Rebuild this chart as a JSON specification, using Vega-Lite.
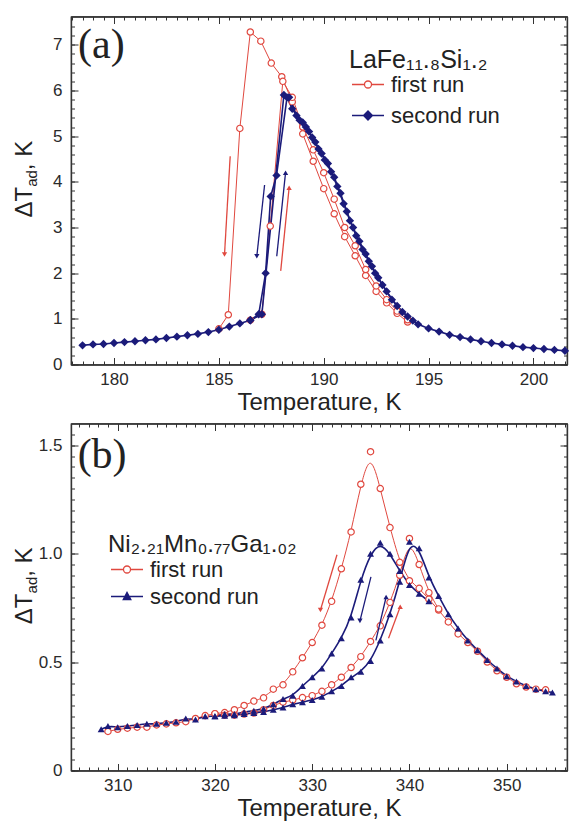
{
  "$schema": "https://vega.github.io/schema/vega-lite/v6.json",
  "background": "white",
  "padding": {"left": 12, "top": 14.5, "right": 0, "bottom": 0},
  "spacing": 6,
  "config": {
    "font": "Liberation Sans",
    "view": {"stroke": "#333333", "strokeWidth": 1.2},
    "axis": {
      "grid": false,
      "labelFont": "Liberation Sans",
      "labelFontSize": 17,
      "labelColor": "#2a2a2a",
      "titleFont": "Liberation Sans",
      "titleFontSize": 24,
      "titleFontWeight": "normal",
      "titleColor": "#222222",
      "domainColor": "#333333",
      "domainWidth": 1.2,
      "tickColor": "#333333",
      "tickWidth": 1,
      "labelOverlap": false,
      "labelBound": false,
      "labelFlush": false
    }
  },
  "datasets": {
    "a": [
      {"T":185.0,"dT":0.78,"run":"first run","br":"1c"},
      {"T":185.45,"dT":1.09,"run":"first run","br":"1c"},
      {"T":186.0,"dT":5.17,"run":"first run","br":"1c"},
      {"T":186.5,"dT":7.28,"run":"first run","br":"1c"},
      {"T":187.0,"dT":7.08,"run":"first run","br":"1c"},
      {"T":187.5,"dT":6.6,"run":"first run","br":"1c"},
      {"T":188.0,"dT":6.3,"run":"first run","br":"1c"},
      {"T":188.5,"dT":5.75,"run":"first run","br":"1c"},
      {"T":189.0,"dT":5.05,"run":"first run","br":"1c"},
      {"T":189.5,"dT":4.45,"run":"first run","br":"1c"},
      {"T":190.0,"dT":3.85,"run":"first run","br":"1c"},
      {"T":190.5,"dT":3.3,"run":"first run","br":"1c"},
      {"T":191.0,"dT":2.8,"run":"first run","br":"1c"},
      {"T":191.5,"dT":2.38,"run":"first run","br":"1c"},
      {"T":192.0,"dT":1.95,"run":"first run","br":"1c"},
      {"T":192.5,"dT":1.6,"run":"first run","br":"1c"},
      {"T":193.0,"dT":1.35,"run":"first run","br":"1c"},
      {"T":193.5,"dT":1.12,"run":"first run","br":"1c"},
      {"T":194.0,"dT":0.93,"run":"first run","br":"1c"},
      {"T":186.5,"dT":0.97,"run":"first run","br":"1h"},
      {"T":187.05,"dT":1.1,"run":"first run","br":"1h"},
      {"T":187.45,"dT":3.03,"run":"first run","br":"1h"},
      {"T":188.05,"dT":6.2,"run":"first run","br":"1h"},
      {"T":188.5,"dT":5.85,"run":"first run","br":"1h"},
      {"T":189.0,"dT":5.2,"run":"first run","br":"1h"},
      {"T":189.5,"dT":4.7,"run":"first run","br":"1h"},
      {"T":190.0,"dT":4.2,"run":"first run","br":"1h"},
      {"T":190.5,"dT":3.62,"run":"first run","br":"1h"},
      {"T":191.0,"dT":3.0,"run":"first run","br":"1h"},
      {"T":191.5,"dT":2.6,"run":"first run","br":"1h"},
      {"T":192.0,"dT":2.08,"run":"first run","br":"1h"},
      {"T":192.5,"dT":1.72,"run":"first run","br":"1h"},
      {"T":193.0,"dT":1.42,"run":"first run","br":"1h"},
      {"T":193.5,"dT":1.17,"run":"first run","br":"1h"},
      {"T":194.0,"dT":0.98,"run":"first run","br":"1h"},
      {"T":178.5,"dT":0.42,"run":"second run","br":"2h"},
      {"T":179.0,"dT":0.44,"run":"second run","br":"2h"},
      {"T":179.5,"dT":0.45,"run":"second run","br":"2h"},
      {"T":180.0,"dT":0.47,"run":"second run","br":"2h"},
      {"T":180.5,"dT":0.49,"run":"second run","br":"2h"},
      {"T":181.0,"dT":0.51,"run":"second run","br":"2h"},
      {"T":181.5,"dT":0.53,"run":"second run","br":"2h"},
      {"T":182.0,"dT":0.55,"run":"second run","br":"2h"},
      {"T":182.5,"dT":0.58,"run":"second run","br":"2h"},
      {"T":183.0,"dT":0.61,"run":"second run","br":"2h"},
      {"T":183.5,"dT":0.64,"run":"second run","br":"2h"},
      {"T":184.0,"dT":0.67,"run":"second run","br":"2h"},
      {"T":184.5,"dT":0.71,"run":"second run","br":"2h"},
      {"T":185.0,"dT":0.76,"run":"second run","br":"2h"},
      {"T":185.5,"dT":0.83,"run":"second run","br":"2h"},
      {"T":186.0,"dT":0.9,"run":"second run","br":"2h"},
      {"T":186.5,"dT":0.97,"run":"second run","br":"2h"},
      {"T":187.05,"dT":1.1,"run":"second run","br":"2h"},
      {"T":188.1,"dT":5.9,"run":"second run","br":"2h"},
      {"T":188.35,"dT":5.85,"run":"second run","br":"2h"},
      {"T":188.7,"dT":5.45,"run":"second run","br":"2h"},
      {"T":189.0,"dT":5.3,"run":"second run","br":"2h"},
      {"T":189.3,"dT":5.1,"run":"second run","br":"2h"},
      {"T":189.6,"dT":4.87,"run":"second run","br":"2h"},
      {"T":189.9,"dT":4.62,"run":"second run","br":"2h"},
      {"T":190.2,"dT":4.4,"run":"second run","br":"2h"},
      {"T":190.5,"dT":4.1,"run":"second run","br":"2h"},
      {"T":190.8,"dT":3.75,"run":"second run","br":"2h"},
      {"T":191.1,"dT":3.35,"run":"second run","br":"2h"},
      {"T":191.4,"dT":3.0,"run":"second run","br":"2h"},
      {"T":191.7,"dT":2.7,"run":"second run","br":"2h"},
      {"T":192.0,"dT":2.42,"run":"second run","br":"2h"},
      {"T":192.3,"dT":2.15,"run":"second run","br":"2h"},
      {"T":192.6,"dT":1.9,"run":"second run","br":"2h"},
      {"T":193.0,"dT":1.6,"run":"second run","br":"2h"},
      {"T":193.5,"dT":1.28,"run":"second run","br":"2h"},
      {"T":194.0,"dT":1.05,"run":"second run","br":"2h"},
      {"T":194.5,"dT":0.88,"run":"second run","br":"2h"},
      {"T":195.0,"dT":0.79,"run":"second run","br":"2h"},
      {"T":195.5,"dT":0.72,"run":"second run","br":"2h"},
      {"T":196.0,"dT":0.65,"run":"second run","br":"2h"},
      {"T":196.5,"dT":0.6,"run":"second run","br":"2h"},
      {"T":197.0,"dT":0.55,"run":"second run","br":"2h"},
      {"T":197.5,"dT":0.51,"run":"second run","br":"2h"},
      {"T":198.0,"dT":0.47,"run":"second run","br":"2h"},
      {"T":198.5,"dT":0.44,"run":"second run","br":"2h"},
      {"T":199.0,"dT":0.41,"run":"second run","br":"2h"},
      {"T":199.5,"dT":0.38,"run":"second run","br":"2h"},
      {"T":200.0,"dT":0.36,"run":"second run","br":"2h"},
      {"T":200.5,"dT":0.34,"run":"second run","br":"2h"},
      {"T":201.0,"dT":0.32,"run":"second run","br":"2h"},
      {"T":201.5,"dT":0.3,"run":"second run","br":"2h"},
      {"T":186.5,"dT":0.97,"run":"second run","br":"2c"},
      {"T":186.9,"dT":1.1,"run":"second run","br":"2c"},
      {"T":187.23,"dT":2.0,"run":"second run","br":"2c"},
      {"T":187.47,"dT":3.68,"run":"second run","br":"2c"},
      {"T":187.75,"dT":4.14,"run":"second run","br":"2c"},
      {"T":188.25,"dT":5.85,"run":"second run","br":"2c"},
      {"T":188.5,"dT":5.6,"run":"second run","br":"2c"},
      {"T":188.85,"dT":5.35,"run":"second run","br":"2c"},
      {"T":189.15,"dT":5.2,"run":"second run","br":"2c"},
      {"T":189.45,"dT":4.97,"run":"second run","br":"2c"},
      {"T":189.75,"dT":4.72,"run":"second run","br":"2c"},
      {"T":190.05,"dT":4.48,"run":"second run","br":"2c"},
      {"T":190.35,"dT":4.22,"run":"second run","br":"2c"},
      {"T":190.65,"dT":3.9,"run":"second run","br":"2c"},
      {"T":190.95,"dT":3.52,"run":"second run","br":"2c"},
      {"T":191.25,"dT":3.15,"run":"second run","br":"2c"},
      {"T":191.55,"dT":2.82,"run":"second run","br":"2c"},
      {"T":191.85,"dT":2.52,"run":"second run","br":"2c"},
      {"T":192.15,"dT":2.26,"run":"second run","br":"2c"},
      {"T":192.45,"dT":2.0,"run":"second run","br":"2c"},
      {"T":192.8,"dT":1.74,"run":"second run","br":"2c"},
      {"T":193.25,"dT":1.42,"run":"second run","br":"2c"},
      {"T":193.75,"dT":1.15,"run":"second run","br":"2c"},
      {"T":194.25,"dT":0.96,"run":"second run","br":"2c"}
    ],
    "aArrows": [
      {"T":185.54,"dT":4.56,"T2":185.27,"dT2":2.41,"run":"first run","dir":"down"},
      {"T":187.95,"dT":2.05,"T2":188.35,"dT2":3.87,"run":"first run","dir":"up"},
      {"T":187.18,"dT":3.93,"T2":186.81,"dT2":2.37,"run":"second run","dir":"down"},
      {"T":187.76,"dT":2.37,"T2":188.18,"dT2":4.2,"run":"second run","dir":"up"}
    ],
    "b": [
      {"T":354,"dT":0.372,"run":"first run","br":"1c"},
      {"T":353,"dT":0.375,"run":"first run","br":"1c"},
      {"T":352,"dT":0.385,"run":"first run","br":"1c"},
      {"T":351,"dT":0.4,"run":"first run","br":"1c"},
      {"T":350,"dT":0.43,"run":"first run","br":"1c"},
      {"T":349,"dT":0.46,"run":"first run","br":"1c"},
      {"T":348,"dT":0.5,"run":"first run","br":"1c"},
      {"T":347,"dT":0.55,"run":"first run","br":"1c"},
      {"T":346,"dT":0.59,"run":"first run","br":"1c"},
      {"T":345,"dT":0.63,"run":"first run","br":"1c"},
      {"T":344,"dT":0.685,"run":"first run","br":"1c"},
      {"T":343,"dT":0.74,"run":"first run","br":"1c"},
      {"T":342,"dT":0.79,"run":"first run","br":"1c"},
      {"T":341,"dT":0.84,"run":"first run","br":"1c"},
      {"T":340,"dT":0.875,"run":"first run","br":"1c"},
      {"T":339,"dT":0.96,"run":"first run","br":"1c"},
      {"T":338,"dT":1.12,"run":"first run","br":"1c"},
      {"T":337,"dT":1.3,"run":"first run","br":"1c"},
      {"T":336,"dT":1.47,"run":"first run","br":"1c"},
      {"T":335,"dT":1.32,"run":"first run","br":"1c"},
      {"T":334,"dT":1.1,"run":"first run","br":"1c"},
      {"T":333,"dT":0.93,"run":"first run","br":"1c"},
      {"T":332,"dT":0.78,"run":"first run","br":"1c"},
      {"T":331,"dT":0.67,"run":"first run","br":"1c"},
      {"T":330,"dT":0.59,"run":"first run","br":"1c"},
      {"T":329,"dT":0.52,"run":"first run","br":"1c"},
      {"T":328,"dT":0.455,"run":"first run","br":"1c"},
      {"T":327,"dT":0.395,"run":"first run","br":"1c"},
      {"T":326,"dT":0.375,"run":"first run","br":"1c"},
      {"T":325,"dT":0.335,"run":"first run","br":"1c"},
      {"T":324,"dT":0.32,"run":"first run","br":"1c"},
      {"T":323,"dT":0.3,"run":"first run","br":"1c"},
      {"T":322,"dT":0.28,"run":"first run","br":"1c"},
      {"T":321,"dT":0.267,"run":"first run","br":"1c"},
      {"T":320,"dT":0.262,"run":"first run","br":"1c"},
      {"T":319,"dT":0.253,"run":"first run","br":"1c"},
      {"T":318,"dT":0.24,"run":"first run","br":"1c"},
      {"T":317,"dT":0.225,"run":"first run","br":"1c"},
      {"T":316,"dT":0.22,"run":"first run","br":"1c"},
      {"T":315,"dT":0.215,"run":"first run","br":"1c"},
      {"T":314,"dT":0.21,"run":"first run","br":"1c"},
      {"T":313,"dT":0.2,"run":"first run","br":"1c"},
      {"T":312,"dT":0.2,"run":"first run","br":"1c"},
      {"T":311,"dT":0.195,"run":"first run","br":"1c"},
      {"T":310,"dT":0.19,"run":"first run","br":"1c"},
      {"T":309,"dT":0.18,"run":"first run","br":"1c"},
      {"T":320,"dT":0.262,"run":"first run","br":"1h"},
      {"T":321,"dT":0.255,"run":"first run","br":"1h"},
      {"T":322,"dT":0.255,"run":"first run","br":"1h"},
      {"T":323,"dT":0.26,"run":"first run","br":"1h"},
      {"T":324,"dT":0.265,"run":"first run","br":"1h"},
      {"T":325,"dT":0.28,"run":"first run","br":"1h"},
      {"T":326,"dT":0.3,"run":"first run","br":"1h"},
      {"T":327,"dT":0.315,"run":"first run","br":"1h"},
      {"T":328,"dT":0.325,"run":"first run","br":"1h"},
      {"T":329,"dT":0.336,"run":"first run","br":"1h"},
      {"T":330,"dT":0.345,"run":"first run","br":"1h"},
      {"T":331,"dT":0.365,"run":"first run","br":"1h"},
      {"T":332,"dT":0.395,"run":"first run","br":"1h"},
      {"T":333,"dT":0.43,"run":"first run","br":"1h"},
      {"T":334,"dT":0.475,"run":"first run","br":"1h"},
      {"T":335,"dT":0.525,"run":"first run","br":"1h"},
      {"T":336,"dT":0.595,"run":"first run","br":"1h"},
      {"T":337,"dT":0.667,"run":"first run","br":"1h"},
      {"T":338,"dT":0.775,"run":"first run","br":"1h"},
      {"T":339,"dT":0.9,"run":"first run","br":"1h"},
      {"T":340,"dT":1.07,"run":"first run","br":"1h"},
      {"T":341,"dT":0.95,"run":"first run","br":"1h"},
      {"T":342,"dT":0.82,"run":"first run","br":"1h"},
      {"T":343,"dT":0.745,"run":"first run","br":"1h"},
      {"T":308.3,"dT":0.19,"run":"second run","br":"2c"},
      {"T":309,"dT":0.205,"run":"second run","br":"2c"},
      {"T":310,"dT":0.2,"run":"second run","br":"2c"},
      {"T":311,"dT":0.205,"run":"second run","br":"2c"},
      {"T":312,"dT":0.21,"run":"second run","br":"2c"},
      {"T":313,"dT":0.215,"run":"second run","br":"2c"},
      {"T":314,"dT":0.215,"run":"second run","br":"2c"},
      {"T":315,"dT":0.22,"run":"second run","br":"2c"},
      {"T":316,"dT":0.225,"run":"second run","br":"2c"},
      {"T":317,"dT":0.24,"run":"second run","br":"2c"},
      {"T":318,"dT":0.235,"run":"second run","br":"2c"},
      {"T":319,"dT":0.25,"run":"second run","br":"2c"},
      {"T":320,"dT":0.25,"run":"second run","br":"2c"},
      {"T":321,"dT":0.26,"run":"second run","br":"2c"},
      {"T":322,"dT":0.26,"run":"second run","br":"2c"},
      {"T":323,"dT":0.27,"run":"second run","br":"2c"},
      {"T":324,"dT":0.275,"run":"second run","br":"2c"},
      {"T":325,"dT":0.285,"run":"second run","br":"2c"},
      {"T":326,"dT":0.305,"run":"second run","br":"2c"},
      {"T":327,"dT":0.33,"run":"second run","br":"2c"},
      {"T":328,"dT":0.345,"run":"second run","br":"2c"},
      {"T":329,"dT":0.39,"run":"second run","br":"2c"},
      {"T":330,"dT":0.43,"run":"second run","br":"2c"},
      {"T":331,"dT":0.47,"run":"second run","br":"2c"},
      {"T":332,"dT":0.54,"run":"second run","br":"2c"},
      {"T":333,"dT":0.61,"run":"second run","br":"2c"},
      {"T":334,"dT":0.705,"run":"second run","br":"2c"},
      {"T":335,"dT":0.88,"run":"second run","br":"2c"},
      {"T":336,"dT":1.0,"run":"second run","br":"2c"},
      {"T":337,"dT":1.05,"run":"second run","br":"2c"},
      {"T":338,"dT":1.0,"run":"second run","br":"2c"},
      {"T":339,"dT":0.92,"run":"second run","br":"2c"},
      {"T":340,"dT":0.855,"run":"second run","br":"2c"},
      {"T":341,"dT":0.815,"run":"second run","br":"2c"},
      {"T":342,"dT":0.78,"run":"second run","br":"2c"},
      {"T":320,"dT":0.25,"run":"second run","br":"2h"},
      {"T":321,"dT":0.252,"run":"second run","br":"2h"},
      {"T":322,"dT":0.255,"run":"second run","br":"2h"},
      {"T":323,"dT":0.26,"run":"second run","br":"2h"},
      {"T":324,"dT":0.265,"run":"second run","br":"2h"},
      {"T":325,"dT":0.27,"run":"second run","br":"2h"},
      {"T":326,"dT":0.28,"run":"second run","br":"2h"},
      {"T":327,"dT":0.29,"run":"second run","br":"2h"},
      {"T":328,"dT":0.305,"run":"second run","br":"2h"},
      {"T":329,"dT":0.315,"run":"second run","br":"2h"},
      {"T":330,"dT":0.325,"run":"second run","br":"2h"},
      {"T":331,"dT":0.34,"run":"second run","br":"2h"},
      {"T":332,"dT":0.365,"run":"second run","br":"2h"},
      {"T":333,"dT":0.39,"run":"second run","br":"2h"},
      {"T":334,"dT":0.43,"run":"second run","br":"2h"},
      {"T":335,"dT":0.455,"run":"second run","br":"2h"},
      {"T":336,"dT":0.505,"run":"second run","br":"2h"},
      {"T":337,"dT":0.6,"run":"second run","br":"2h"},
      {"T":338,"dT":0.72,"run":"second run","br":"2h"},
      {"T":339,"dT":0.87,"run":"second run","br":"2h"},
      {"T":340,"dT":1.055,"run":"second run","br":"2h"},
      {"T":341,"dT":1.025,"run":"second run","br":"2h"},
      {"T":342,"dT":0.89,"run":"second run","br":"2h"},
      {"T":343,"dT":0.805,"run":"second run","br":"2h"},
      {"T":344,"dT":0.72,"run":"second run","br":"2h"},
      {"T":345,"dT":0.655,"run":"second run","br":"2h"},
      {"T":346,"dT":0.6,"run":"second run","br":"2h"},
      {"T":347,"dT":0.555,"run":"second run","br":"2h"},
      {"T":348,"dT":0.51,"run":"second run","br":"2h"},
      {"T":349,"dT":0.47,"run":"second run","br":"2h"},
      {"T":350,"dT":0.435,"run":"second run","br":"2h"},
      {"T":351,"dT":0.41,"run":"second run","br":"2h"},
      {"T":352,"dT":0.39,"run":"second run","br":"2h"},
      {"T":353,"dT":0.375,"run":"second run","br":"2h"},
      {"T":354,"dT":0.365,"run":"second run","br":"2h"},
      {"T":354.7,"dT":0.36,"run":"second run","br":"2h"}
    ],
    "bArrows": [
      {"T":332.55,"dT":0.995,"T2":330.85,"dT2":0.74,"run":"first run","dir":"down"},
      {"T":337.85,"dT":0.61,"T2":339.05,"dT2":0.755,"run":"first run","dir":"up"},
      {"T":336.04,"dT":0.893,"T2":334.91,"dT2":0.69,"run":"second run","dir":"down"},
      {"T":336.55,"dT":0.6,"T2":337.6,"dT2":0.8,"run":"second run","dir":"up"}
    ]
  },
  "resolve": {"scale": {"color": "independent"}, "legend": {"color": "independent"}},
  "vconcat": [
    {
      "width": 496,
      "height": 348,
      "resolve": {"axis": {"x": "independent", "y": "independent"}},
      "layer": [
        {
          "data": {"name": "a"},
          "mark": {"type": "line", "interpolate": "linear"},
          "encoding": {
            "x": {"field": "T", "type": "quantitative",
              "scale": {"domain": [177.95, 201.6], "nice": false, "zero": false},
              "axis": {"orient": "bottom", "title": "Temperature, K",
                "values": [178,178.5,179,179.5,180,180.5,181,181.5,182,182.5,183,183.5,184,184.5,185,185.5,186,186.5,187,187.5,188,188.5,189,189.5,190,190.5,191,191.5,192,192.5,193,193.5,194,194.5,195,195.5,196,196.5,197,197.5,198,198.5,199,199.5,200,200.5,201,201.5],
                "labelExpr": "datum.value % 5 === 0 ? format(datum.value, 'd') : ''",
                "tickSize": -3.5,
                "labelPadding": 10.5, "titlePadding": 3}},
            "y": {"field": "dT", "type": "quantitative",
              "scale": {"domain": [0, 7.62], "nice": false, "zero": false},
              "axis": {"orient": "left", "title": null,
                "values": [0,0.2,0.4,0.6,0.8,1,1.2,1.4,1.6,1.8,2,2.2,2.4,2.6,2.8,3,3.2,3.4,3.6,3.8,4,4.2,4.4,4.6,4.8,5,5.2,5.4,5.6,5.8,6,6.2,6.4,6.6,6.8,7,7.2,7.4],
                "labelExpr": "datum.value % 1 === 0 ? format(datum.value, 'd') : ''",
                "tickSize": -3.5,
                "labelPadding": 12.5}},
            "color": {"field": "run", "type": "nominal",
              "scale": {"domain": ["first run", "second run"], "range": ["#e0483f", "#1b1b7a"]},
              "legend": {"orient": "none", "legendX": 278, "legendY": 31, "padding": 0,
                "title": "LaFe₁₁.₈Si₁.₂", "titleFont": "Liberation Sans", "titleFontSize": 25, "titleFontWeight": "normal", "titleColor": "#222222", "titlePadding": 1, "titleLimit": 400,
                "labelFont": "Liberation Sans", "labelFontSize": 22, "labelColor": "#222222", "labelOffset": 20, "labelLimit": 300,
                "symbolSize": 256, "rowPadding": 9,
                "encode": {"symbols": {"update": {
                  "shape": {"signal": "datum.value === 'first run' ? 'M-1,0L0.56,0M1.44,0L3,0M1.44,0A0.44,0.44,0,1,1,0.56,0A0.44,0.44,0,1,1,1.44,0ZM1.44,0A0.44,0.44,0,1,0,0.56,0A0.44,0.44,0,1,0,1.44,0Z' : 'M-1,0L3,0M0.44,0L1,-0.56L1.56,0L1,0.56Z'"},
                  "stroke": {"signal": "datum.value === 'first run' ? '#e0483f' : '#1b1b7a'"},
                  "strokeWidth": {"value": 1.3},
                  "size": {"value": 256},
                  "opacity": {"value": 1}}}}}},
            "detail": {"field": "br"},
            "strokeWidth": {"field": "run", "type": "ordinal", "scale": {"domain": ["first run", "second run"], "range": [1, 1.6]}, "legend": null}
          }
        },
        {
          "data": {"name": "a"},
          "transform": [{"filter": "datum.run === 'first run'"}],
          "mark": {"type": "point", "shape": "circle", "filled": true, "fill": "#ffffff", "stroke": "#e0483f", "strokeWidth": 1.2, "size": 40, "opacity": 1},
          "encoding": {
            "x": {"field": "T", "type": "quantitative",
              "axis": {"orient": "top", "title": null, "labels": false, "tickSize": -3.5,
                "values": [178,178.5,179,179.5,180,180.5,181,181.5,182,182.5,183,183.5,184,184.5,185,185.5,186,186.5,187,187.5,188,188.5,189,189.5,190,190.5,191,191.5,192,192.5,193,193.5,194,194.5,195,195.5,196,196.5,197,197.5,198,198.5,199,199.5,200,200.5,201,201.5]}},
            "y": {"field": "dT", "type": "quantitative",
              "axis": {"orient": "right", "title": null, "labels": false, "tickSize": -3.5,
                "values": [0,0.2,0.4,0.6,0.8,1,1.2,1.4,1.6,1.8,2,2.2,2.4,2.6,2.8,3,3.2,3.4,3.6,3.8,4,4.2,4.4,4.6,4.8,5,5.2,5.4,5.6,5.8,6,6.2,6.4,6.6,6.8,7,7.2,7.4]}}
          }
        },
        {
          "data": {"name": "a"},
          "transform": [{"filter": "datum.run === 'second run'"}],
          "mark": {"type": "point", "shape": "diamond", "filled": true, "color": "#1b1b7a", "size": 70, "opacity": 1},
          "encoding": {
            "x": {"field": "T", "type": "quantitative",
              "axis": {"orient": "bottom", "title": null, "labels": false, "tickSize": -7, "values": [180, 185, 190, 195, 200]}},
            "y": {"field": "dT", "type": "quantitative",
              "axis": {"orient": "left", "title": null, "labels": false, "tickSize": -7, "values": [0, 1, 2, 3, 4, 5, 6, 7]}}
          }
        },
        {
          "data": {"name": "aArrows"},
          "mark": {"type": "rule", "strokeWidth": 1.3},
          "encoding": {
            "x": {"field": "T", "type": "quantitative",
              "axis": {"orient": "top", "title": null, "labels": false, "tickSize": -7, "values": [180, 185, 190, 195, 200]}},
            "y": {"field": "dT", "type": "quantitative",
              "axis": {"orient": "right", "title": null, "labels": false, "tickSize": -7, "values": [0, 1, 2, 3, 4, 5, 6, 7]}},
            "x2": {"field": "T2"},
            "y2": {"field": "dT2"},
            "color": {"field": "run", "type": "nominal", "legend": null}
          }
        },
        {
          "data": {"name": "aArrows"},
          "transform": [{"filter": "datum.dir === 'down'"}],
          "mark": {"type": "point", "shape": "triangle-down", "filled": true, "size": 28, "opacity": 1},
          "encoding": {
            "x": {"field": "T2", "type": "quantitative", "axis": null},
            "y": {"field": "dT2", "type": "quantitative", "axis": null},
            "color": {"field": "run", "type": "nominal", "legend": null}
          }
        },
        {
          "data": {"name": "aArrows"},
          "transform": [{"filter": "datum.dir === 'up'"}],
          "mark": {"type": "point", "shape": "triangle-up", "filled": true, "size": 28, "opacity": 1},
          "encoding": {
            "x": {"field": "T2", "type": "quantitative", "axis": null},
            "y": {"field": "dT2", "type": "quantitative", "axis": null},
            "color": {"field": "run", "type": "nominal", "legend": null}
          }
        },
        {
          "data": {"values": [{"label": "(a)"}]},
          "mark": {"type": "text", "font": "Liberation Serif", "fontSize": 42, "color": "#222222", "align": "center", "baseline": "middle"},
          "encoding": {
            "x": {"datum": 179.4, "type": "quantitative", "axis": null},
            "y": {"datum": 7.0, "type": "quantitative", "axis": null},
            "text": {"field": "label"}
          }
        },
        {
          "data": {"values": [{"label": "ΔT"}]},
          "mark": {"type": "text", "fontSize": 24, "color": "#222222", "angle": 270, "align": "left", "baseline": "alphabetic", "dx": -38, "dy": -39},
          "encoding": {
            "x": {"datum": 177.95, "type": "quantitative", "axis": null},
            "y": {"datum": 4.05, "type": "quantitative", "axis": null},
            "text": {"field": "label"}
          }
        },
        {
          "data": {"values": [{"label": "ad"}]},
          "mark": {"type": "text", "fontSize": 15, "color": "#222222", "angle": 270, "align": "left", "baseline": "alphabetic", "dx": -7.3, "dy": -34},
          "encoding": {
            "x": {"datum": 177.95, "type": "quantitative", "axis": null},
            "y": {"datum": 4.05, "type": "quantitative", "axis": null},
            "text": {"field": "label"}
          }
        },
        {
          "data": {"values": [{"label": ", K"}]},
          "mark": {"type": "text", "fontSize": 24, "color": "#222222", "angle": 270, "align": "left", "baseline": "alphabetic", "dx": 9.4, "dy": -39},
          "encoding": {
            "x": {"datum": 177.95, "type": "quantitative", "axis": null},
            "y": {"datum": 4.05, "type": "quantitative", "axis": null},
            "text": {"field": "label"}
          }
        }
      ]
    },
    {
      "width": 496,
      "height": 347,
      "resolve": {"axis": {"x": "independent", "y": "independent"}},
      "layer": [
        {
          "data": {"name": "b"},
          "mark": {"type": "line", "interpolate": "basis"},
          "encoding": {
            "x": {"field": "T", "type": "quantitative",
              "scale": {"domain": [305.2, 356.2], "nice": false, "zero": false},
              "axis": {"orient": "bottom", "title": "Temperature, K",
                "values": [306,307,308,309,310,311,312,313,314,315,316,317,318,319,320,321,322,323,324,325,326,327,328,329,330,331,332,333,334,335,336,337,338,339,340,341,342,343,344,345,346,347,348,349,350,351,352,353,354,355,356],
                "labelExpr": "datum.value % 10 === 0 ? format(datum.value, 'd') : ''",
                "tickSize": -3.5,
                "labelPadding": 10.5, "titlePadding": 3}},
            "y": {"field": "dT", "type": "quantitative",
              "scale": {"domain": [0, 1.6], "nice": false, "zero": false},
              "axis": {"orient": "left", "title": null,
                "values": [0,0.05,0.1,0.15,0.2,0.25,0.3,0.35,0.4,0.45,0.5,0.55,0.6,0.65,0.7,0.75,0.8,0.85,0.9,0.95,1,1.05,1.1,1.15,1.2,1.25,1.3,1.35,1.4,1.45,1.5,1.55],
                "labelExpr": "abs(datum.value*2 - round(datum.value*2)) < 0.001 ? (datum.value === 0 ? '0' : format(datum.value, '.1f')) : ''",
                "tickSize": -3.5,
                "labelPadding": 12.5}},
            "color": {"field": "run", "type": "nominal",
              "scale": {"domain": ["first run", "second run"], "range": ["#e0483f", "#1b1b7a"]},
              "legend": {"orient": "none", "legendX": 37, "legendY": 109, "padding": 0,
                "title": "Ni₂.₂₁Mn₀.₇₇Ga₁.₀₂", "titleFont": "Liberation Sans", "titleFontSize": 24, "titleFontWeight": "normal", "titleColor": "#222222", "titlePadding": 2, "titleLimit": 400,
                "labelFont": "Liberation Sans", "labelFontSize": 22, "labelColor": "#222222", "labelOffset": 20, "labelLimit": 300,
                "symbolSize": 256, "rowPadding": 5,
                "encode": {"symbols": {"update": {
                  "shape": {"signal": "datum.value === 'first run' ? 'M-1,0L0.56,0M1.44,0L3,0M1.44,0A0.44,0.44,0,1,1,0.56,0A0.44,0.44,0,1,1,1.44,0ZM1.44,0A0.44,0.44,0,1,0,0.56,0A0.44,0.44,0,1,0,1.44,0Z' : 'M-1,0L3,0M0.52,0.4L1,-0.5L1.48,0.4Z'"},
                  "stroke": {"signal": "datum.value === 'first run' ? '#e0483f' : '#1b1b7a'"},
                  "strokeWidth": {"value": 1.3},
                  "size": {"value": 256},
                  "opacity": {"value": 1}}}}}},
            "detail": {"field": "br"},
            "strokeWidth": {"field": "run", "type": "ordinal", "scale": {"domain": ["first run", "second run"], "range": [1, 1.6]}, "legend": null}
          }
        },
        {
          "data": {"name": "b"},
          "transform": [{"filter": "datum.run === 'first run'"}],
          "mark": {"type": "point", "shape": "circle", "filled": true, "fill": "#ffffff", "stroke": "#e0483f", "strokeWidth": 1.2, "size": 40, "opacity": 1},
          "encoding": {
            "x": {"field": "T", "type": "quantitative",
              "axis": {"orient": "top", "title": null, "labels": false, "tickSize": -3.5,
                "values": [306,307,308,309,310,311,312,313,314,315,316,317,318,319,320,321,322,323,324,325,326,327,328,329,330,331,332,333,334,335,336,337,338,339,340,341,342,343,344,345,346,347,348,349,350,351,352,353,354,355,356]}},
            "y": {"field": "dT", "type": "quantitative",
              "axis": {"orient": "right", "title": null, "labels": false, "tickSize": -3.5,
                "values": [0,0.05,0.1,0.15,0.2,0.25,0.3,0.35,0.4,0.45,0.5,0.55,0.6,0.65,0.7,0.75,0.8,0.85,0.9,0.95,1,1.05,1.1,1.15,1.2,1.25,1.3,1.35,1.4,1.45,1.5,1.55]}}
          }
        },
        {
          "data": {"name": "b"},
          "transform": [{"filter": "datum.run === 'second run'"}],
          "mark": {"type": "point", "shape": "triangle-up", "filled": true, "color": "#1b1b7a", "size": 48, "opacity": 1},
          "encoding": {
            "x": {"field": "T", "type": "quantitative",
              "axis": {"orient": "bottom", "title": null, "labels": false, "tickSize": -7, "values": [310, 320, 330, 340, 350]}},
            "y": {"field": "dT", "type": "quantitative",
              "axis": {"orient": "left", "title": null, "labels": false, "tickSize": -7, "values": [0, 0.5, 1, 1.5]}}
          }
        },
        {
          "data": {"name": "bArrows"},
          "mark": {"type": "rule", "strokeWidth": 1.3},
          "encoding": {
            "x": {"field": "T", "type": "quantitative",
              "axis": {"orient": "top", "title": null, "labels": false, "tickSize": -7, "values": [310, 320, 330, 340, 350]}},
            "y": {"field": "dT", "type": "quantitative",
              "axis": {"orient": "right", "title": null, "labels": false, "tickSize": -7, "values": [0, 0.5, 1, 1.5]}},
            "x2": {"field": "T2"},
            "y2": {"field": "dT2"},
            "color": {"field": "run", "type": "nominal", "legend": null}
          }
        },
        {
          "data": {"name": "bArrows"},
          "transform": [{"filter": "datum.dir === 'down'"}],
          "mark": {"type": "point", "shape": "triangle-down", "filled": true, "size": 28, "opacity": 1},
          "encoding": {
            "x": {"field": "T2", "type": "quantitative", "axis": null},
            "y": {"field": "dT2", "type": "quantitative", "axis": null},
            "color": {"field": "run", "type": "nominal", "legend": null}
          }
        },
        {
          "data": {"name": "bArrows"},
          "transform": [{"filter": "datum.dir === 'up'"}],
          "mark": {"type": "point", "shape": "triangle-up", "filled": true, "size": 28, "opacity": 1},
          "encoding": {
            "x": {"field": "T2", "type": "quantitative", "axis": null},
            "y": {"field": "dT2", "type": "quantitative", "axis": null},
            "color": {"field": "run", "type": "nominal", "legend": null}
          }
        },
        {
          "data": {"values": [{"label": "(b)"}]},
          "mark": {"type": "text", "font": "Liberation Serif", "fontSize": 42, "color": "#222222", "align": "center", "baseline": "middle"},
          "encoding": {
            "x": {"datum": 308.4, "type": "quantitative", "axis": null},
            "y": {"datum": 1.456, "type": "quantitative", "axis": null},
            "text": {"field": "label"}
          }
        },
        {
          "data": {"values": [{"label": "ΔT"}]},
          "mark": {"type": "text", "fontSize": 24, "color": "#222222", "angle": 270, "align": "left", "baseline": "alphabetic", "dx": -38, "dy": -39},
          "encoding": {
            "x": {"datum": 305.2, "type": "quantitative", "axis": null},
            "y": {"datum": 0.85, "type": "quantitative", "axis": null},
            "text": {"field": "label"}
          }
        },
        {
          "data": {"values": [{"label": "ad"}]},
          "mark": {"type": "text", "fontSize": 15, "color": "#222222", "angle": 270, "align": "left", "baseline": "alphabetic", "dx": -7.3, "dy": -34},
          "encoding": {
            "x": {"datum": 305.2, "type": "quantitative", "axis": null},
            "y": {"datum": 0.85, "type": "quantitative", "axis": null},
            "text": {"field": "label"}
          }
        },
        {
          "data": {"values": [{"label": ", K"}]},
          "mark": {"type": "text", "fontSize": 24, "color": "#222222", "angle": 270, "align": "left", "baseline": "alphabetic", "dx": 9.4, "dy": -39},
          "encoding": {
            "x": {"datum": 305.2, "type": "quantitative", "axis": null},
            "y": {"datum": 0.85, "type": "quantitative", "axis": null},
            "text": {"field": "label"}
          }
        }
      ]
    }
  ]
}
